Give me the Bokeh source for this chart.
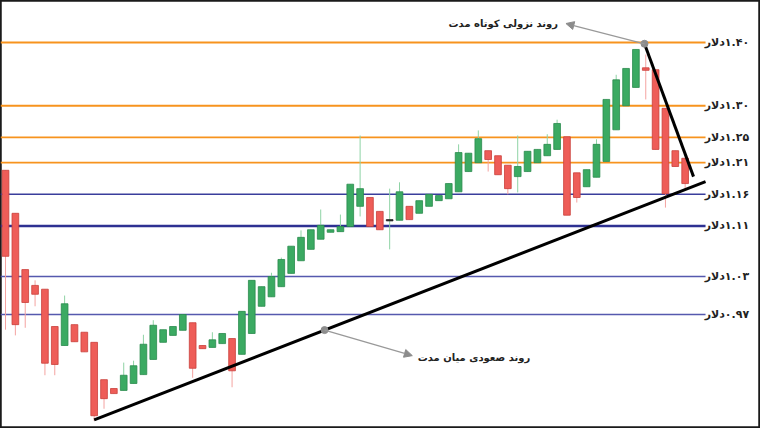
from bokeh.plotting import figure
from bokeh.models import ColumnDataSource, Range1d, Arrow, NormalHead
from bokeh.embed import file_html
from bokeh.resources import INLINE
from bokeh.core.properties import value

# ---- data -------------------------------------------------------------
opens = [1.198, 1.130, 1.041, 1.016, 1.010, 0.951, 0.921, 0.954, 0.942, 0.926,
         0.867, 0.853, 0.850, 0.861, 0.875, 0.899, 0.926, 0.937, 0.945, 0.957,
         0.921, 0.918, 0.924, 0.932, 0.907, 0.940, 0.983, 0.998, 1.014, 1.035,
         1.055, 1.073, 1.089, 1.100, 1.101, 1.109, 1.141, 1.155, 1.133, 1.118,
         1.119, 1.141, 1.130, 1.141, 1.150, 1.153, 1.164, 1.196, 1.210, 1.229,
         1.221, 1.206, 1.188, 1.196, 1.210, 1.221, 1.231, 1.251, 1.194, 1.172,
         1.187, 1.212, 1.262, 1.300, 1.329, 1.360, 1.357, 1.296, 1.229, 1.217]
closes = [1.062, 0.954, 0.989, 1.002, 0.893, 0.891, 0.987, 0.927, 0.911, 0.810,
          0.837, 0.845, 0.874, 0.889, 0.923, 0.953, 0.946, 0.951, 0.970, 0.885,
          0.916, 0.930, 0.940, 0.881, 0.975, 1.024, 1.014, 1.030, 1.057, 1.078,
          1.092, 1.104, 1.111, 1.104, 1.109, 1.176, 1.169, 1.109, 1.104, 1.120,
          1.164, 1.120, 1.150, 1.160, 1.158, 1.177, 1.226, 1.225, 1.248, 1.215,
          1.191, 1.169, 1.204, 1.228, 1.231, 1.239, 1.272, 1.127, 1.155, 1.199,
          1.239, 1.310, 1.341, 1.359, 1.389, 1.356, 1.231, 1.161, 1.204, 1.177]
highs = [1.198, 1.130, 1.041, 1.024, 1.010, 0.951, 1.000, 0.954, 0.942, 0.926,
         0.867, 0.853, 0.894, 0.897, 0.938, 0.961, 0.946, 0.951, 0.970, 0.957,
         0.921, 0.942, 0.940, 0.932, 0.975, 1.024, 1.014, 1.036, 1.060, 1.078,
         1.103, 1.104, 1.136, 1.104, 1.128, 1.176, 1.253, 1.155, 1.133, 1.169,
         1.179, 1.141, 1.150, 1.160, 1.158, 1.177, 1.239, 1.225, 1.261, 1.229,
         1.221, 1.206, 1.253, 1.228, 1.231, 1.255, 1.278, 1.251, 1.194, 1.199,
         1.247, 1.310, 1.349, 1.359, 1.389, 1.381, 1.357, 1.296, 1.229, 1.217]
lows = [0.946, 0.937, 0.949, 0.983, 0.874, 0.874, 0.921, 0.927, 0.911, 0.802,
        0.821, 0.845, 0.850, 0.861, 0.875, 0.899, 0.926, 0.937, 0.945, 0.870,
        0.916, 0.918, 0.924, 0.855, 0.907, 0.940, 0.983, 0.998, 1.014, 1.035,
        1.055, 1.073, 1.089, 1.100, 1.101, 1.109, 1.125, 1.109, 1.104, 1.073,
        1.119, 1.120, 1.130, 1.141, 1.150, 1.153, 1.164, 1.196, 1.210, 1.196,
        1.191, 1.160, 1.163, 1.196, 1.210, 1.221, 1.231, 1.127, 1.147, 1.172,
        1.187, 1.212, 1.262, 1.300, 1.329, 1.310, 1.231, 1.139, 1.204, 1.168]
periods = list(range(1, len(opens) + 1))

levels = [1.40, 1.30, 1.25, 1.21, 1.16, 1.11, 1.03, 0.97]
level_labels = ["۱.۴۰دلار", "۱.۳۰دلار", "۱.۲۵دلار", "۱.۲۱دلار",
                "۱.۱۶دلار", "۱.۱۱دلار", "۱.۰۳دلار", "۰.۹۷دلار"]

uptrend_x = [10.0, 72.07]
uptrend_y = [0.8035, 1.180]
downtrend_x = [65.87, 70.85]
downtrend_y = [1.398, 1.188]

note_short = "روند نزولی کوتاه مدت"
note_mid = "روند صعودی میان مدت"

# ---- styles -----------------------------------------------------------
ORANGE = "#F7931E"
BLUE = "#3A3E9C"
BLUE_L = "#5659AE"
level_colors = [ORANGE, ORANGE, ORANGE, ORANGE, BLUE, "#2E3192", BLUE_L, BLUE_L]
level_widths = [2.2, 2.2, 1.8, 1.8, 1.5, 2.4, 1.6, 1.6]

GREEN = "#3BAA62"
GREEN_E = "#2A8A4C"
GREEN_W = "#8FD3A5"
RED = "#EE5D58"
RED_E = "#C9403B"
RED_W = "#F4A3A0"

fill, edge, wick = [], [], []
for o, c in zip(opens, closes):
    if abs(c - o) < 0.0025:
        fill.append("#333333"); edge.append("#222222"); wick.append(GREEN_W)
    elif c >= o:
        fill.append(GREEN); edge.append(GREEN_E); wick.append(GREEN_W)
    else:
        fill.append(RED); edge.append(RED_E); wick.append(RED_W)

src = ColumnDataSource(dict(
    x=periods, o=opens, c=closes, h=highs, l=lows,
    top=[max(a, b) for a, b in zip(opens, closes)],
    bot=[min(a, b) for a, b in zip(opens, closes)],
    fill=fill, edge=edge, wick=wick,
))

X0, X1 = 0.49, 77.65
p = figure(width=760, height=428, x_range=Range1d(X0, X1),
           y_range=Range1d(0.7898, 1.4664),
           x_axis_location=None, y_axis_location=None,
           output_backend="svg", toolbar_location=None, min_border=0)
p.grid.visible = False
p.outline_line_color = "#1a1a1a"
p.outline_line_width = 2.5
p.background_fill_color = "white"

# support / resistance levels
lev = ColumnDataSource(dict(
    x0=[X0] * len(levels), x1=[72.07] * len(levels), y=levels,
    color=level_colors, w=level_widths,
    lab=["\u200f" + t for t in level_labels], lx=[76.5] * len(levels)))
p.segment(x0="x0", y0="y", x1="x1", y1="y", line_color="color",
          line_width="w", source=lev)
p.text(x="lx", y="y", text="lab", source=lev, text_align="right",
       text_baseline="middle", text_font=value("DejaVu Sans"),
       text_font_size="11px", text_font_style="bold", text_color="#222222")

# candles
p.segment(x0="x", y0="l", x1="x", y1="h", line_color="wick", line_width=1,
          source=src)
p.vbar(x="x", top="top", bottom="bot", width=0.68, fill_color="fill",
       line_color="edge", line_width=0.8, source=src)

# trend lines
p.line(uptrend_x, uptrend_y, line_color="black", line_width=3)
p.line(downtrend_x, downtrend_y, line_color="black", line_width=3)

# annotations
mid_dot_x = 33.39
mid_dot_y = uptrend_y[0] + (mid_dot_x - uptrend_x[0]) / (uptrend_x[1] - uptrend_x[0]) * (uptrend_y[1] - uptrend_y[0])
p.scatter([downtrend_x[0], mid_dot_x], [downtrend_y[0], mid_dot_y],
          size=7, color="#8c8c8c")
p.add_layout(Arrow(end=NormalHead(size=8, fill_color="#8c8c8c", line_color="#8c8c8c"),
                   x_start=downtrend_x[0], y_start=downtrend_y[0],
                   x_end=57.9, y_end=1.430, line_color="#999999", line_width=1.3))
p.add_layout(Arrow(end=NormalHead(size=8, fill_color="#8c8c8c", line_color="#8c8c8c"),
                   x_start=mid_dot_x, y_start=mid_dot_y,
                   x_end=42.3, y_end=0.905, line_color="#999999", line_width=1.3))
p.text(x=[57.1], y=[1.430], text=[note_short], text_align="right",
       text_baseline="middle", text_font=value("DejaVu Sans"),
       text_font_size="10px", text_font_style="bold", text_color="#222222")
p.text(x=[42.85], y=[0.9020], text=[note_mid], text_align="left",
       text_baseline="middle", text_font=value("DejaVu Sans"),
       text_font_size="10px", text_font_style="bold", text_color="#222222")

open("out.html", "w").write(file_html(p, INLINE))
